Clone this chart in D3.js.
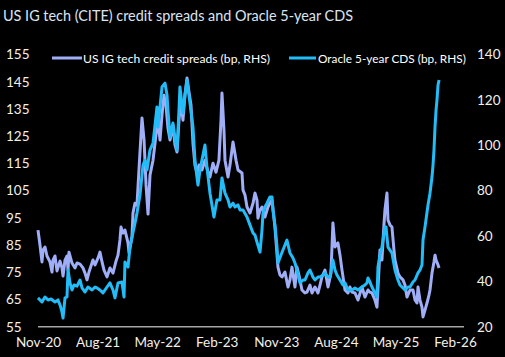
<!DOCTYPE html>
<html><head><meta charset="utf-8">
<script src="https://cdn.jsdelivr.net/npm/d3@7"></script>
<style>
html,body{margin:0;padding:0;background:#000;}
svg{display:block;}
text{font-family:Lato,"Liberation Sans",sans-serif;}
</style></head>
<body>
<script>
// ---- data ----
const titleText = "US IG tech (CITE) credit spreads and Oracle 5-year CDS";
const legendLabels = ["US IG tech credit spreads (bp, RHS)", "Oracle 5-year CDS (bp, RHS)"];
const xTickVals = [2020.833, 2021.583, 2022.333, 2023.083, 2023.833, 2024.583, 2025.333, 2026.083];
const xTickLabels = ["Nov-20","Aug-21","May-22","Feb-23","Nov-23","Aug-24","May-25","Feb-26"];
const leftTicks = [55,65,75,85,95,105,115,125,135,145,155];
const rightTicks = [20,40,60,80,100,120,140];

// US IG tech (CITE) spreads, bp (left scale); dates as decimal years
const citeDates = [2020.833,2020.858,2020.883,2020.896,2020.921,2020.946,2020.984,2021.009,2021.022,2021.047,2021.072,2021.110,2021.135,2021.148,2021.173,2021.198,2021.211,2021.223,2021.261,2021.299,2021.324,2021.362,2021.399,2021.425,2021.450,2021.475,2021.500,2021.525,2021.551,2021.588,2021.613,2021.639,2021.664,2021.702,2021.739,2021.777,2021.815,2021.840,2021.865,2021.878,2021.903,2021.928,2021.966,2021.979,2022.016,2022.029,2022.054,2022.079,2022.104,2022.142,2022.168,2022.193,2022.218,2022.243,2022.281,2022.318,2022.344,2022.369,2022.394,2022.419,2022.444,2022.469,2022.495,2022.532,2022.557,2022.583,2022.608,2022.633,2022.658,2022.683,2022.709,2022.734,2022.759,2022.784,2022.809,2022.834,2022.860,2022.897,2022.935,2022.973,2022.998,2023.036,2023.074,2023.111,2023.137,2023.149,2023.174,2023.187,2023.225,2023.250,2023.288,2023.326,2023.351,2023.401,2023.414,2023.439,2023.464,2023.502,2023.540,2023.565,2023.590,2023.602,2023.628,2023.653,2023.690,2023.728,2023.753,2023.779,2023.816,2023.854,2023.879,2023.905,2023.942,2023.980,2024.005,2024.030,2024.068,2024.093,2024.118,2024.156,2024.194,2024.219,2024.257,2024.282,2024.320,2024.358,2024.383,2024.408,2024.446,2024.484,2024.521,2024.546,2024.572,2024.609,2024.635,2024.660,2024.698,2024.735,2024.760,2024.786,2024.823,2024.861,2024.911,2024.949,2024.987,2025.012,2025.037,2025.075,2025.100,2025.125,2025.138,2025.163,2025.188,2025.201,2025.226,2025.239,2025.264,2025.289,2025.314,2025.327,2025.365,2025.390,2025.428,2025.453,2025.478,2025.516,2025.554,2025.579,2025.604,2025.617,2025.642,2025.667,2025.680,2025.705,2025.730,2025.755,2025.768,2025.793,2025.818,2025.831,2025.844,2025.869,2025.882];
const citeValues = [90.5,85.0,78.8,83.2,84.3,81.0,78.8,75.1,79.5,81.0,75.5,79.1,76.6,73.6,79.5,81.0,75.8,82.4,78.4,76.6,78.4,78.0,76.6,74.7,72.2,75.1,77.3,79.5,77.7,80.2,82.4,78.8,75.8,73.3,76.6,74.7,79.1,81.3,86.9,91.6,89.4,90.5,85.8,82.1,88.0,96.8,100.4,99.7,112.6,131.7,123.6,107.1,96.4,110.7,116.2,125.4,130.9,123.6,132.8,140.1,136.5,128.0,123.6,129.1,121.8,119.2,130.9,138.3,130.9,140.1,146.4,141.2,136.5,122.5,114.4,111.5,114.4,112.6,116.2,111.8,110.0,115.1,111.8,116.2,130.9,140.9,127.3,116.2,110.0,114.4,122.9,116.2,112.6,111.5,105.2,103.4,99.0,96.8,100.4,104.1,101.5,94.9,97.9,99.0,95.3,99.0,100.4,101.5,91.6,76.9,74.0,73.3,75.1,69.6,72.2,76.9,69.6,76.9,74.0,68.5,67.4,67.7,70.3,67.4,69.6,67.4,70.3,73.3,75.8,69.6,74.7,93.1,84.3,85.8,81.3,75.8,68.5,67.4,69.6,67.7,67.4,64.8,69.6,65.9,68.5,67.7,67.4,64.8,62.2,75.8,83.2,79.5,92.4,97.9,104.1,94.2,92.4,91.6,83.2,79.5,74.7,73.3,72.2,70.3,65.9,68.5,68.5,64.8,63.7,69.6,64.8,62.2,58.6,61.1,63.7,66.6,68.5,74.7,78.8,81.3,79.5,77.7,76.6];

// Oracle 5-year CDS, bp (right scale)
const oracleDates = [2020.833,2020.858,2020.883,2020.921,2020.959,2020.997,2021.047,2021.085,2021.110,2021.135,2021.148,2021.173,2021.198,2021.211,2021.236,2021.261,2021.286,2021.324,2021.362,2021.387,2021.425,2021.462,2021.513,2021.551,2021.576,2021.613,2021.651,2021.702,2021.739,2021.777,2021.802,2021.840,2021.890,2021.916,2021.928,2021.966,2021.991,2022.016,2022.054,2022.079,2022.117,2022.155,2022.180,2022.205,2022.243,2022.281,2022.306,2022.331,2022.344,2022.369,2022.394,2022.432,2022.457,2022.469,2022.495,2022.532,2022.557,2022.583,2022.608,2022.620,2022.658,2022.683,2022.709,2022.746,2022.784,2022.809,2022.834,2022.847,2022.872,2022.897,2022.935,2022.960,2022.998,2023.023,2023.048,2023.086,2023.124,2023.149,2023.187,2023.225,2023.250,2023.288,2023.313,2023.351,2023.376,2023.414,2023.464,2023.502,2023.540,2023.565,2023.590,2023.628,2023.653,2023.665,2023.690,2023.716,2023.753,2023.779,2023.791,2023.816,2023.842,2023.854,2023.892,2023.917,2023.942,2023.967,2024.005,2024.043,2024.068,2024.093,2024.131,2024.169,2024.194,2024.232,2024.257,2024.295,2024.320,2024.358,2024.383,2024.421,2024.446,2024.484,2024.509,2024.546,2024.572,2024.597,2024.635,2024.672,2024.698,2024.735,2024.786,2024.823,2024.861,2024.911,2024.949,2024.974,2024.987,2025.012,2025.037,2025.075,2025.100,2025.113,2025.138,2025.163,2025.201,2025.214,2025.239,2025.264,2025.289,2025.327,2025.365,2025.390,2025.428,2025.453,2025.491,2025.516,2025.554,2025.579,2025.617,2025.642,2025.667,2025.680,2025.705,2025.743,2025.768,2025.793,2025.806,2025.818,2025.831,2025.844,2025.856,2025.869,2025.882];
const oracleValues = [32.7,31.8,30.9,33.1,31.8,32.2,30.9,31.8,29.6,26.5,23.8,32.7,33.1,45.0,39.3,36.2,38.4,37.9,40.6,37.1,35.3,37.5,36.2,37.5,37.1,36.2,34.9,37.5,39.3,36.2,32.7,39.3,39.7,33.1,48.5,46.3,55.1,59.5,65.7,70.1,78.1,91.3,93.5,89.1,97.9,101.0,108.9,116.9,108.0,116.9,125.7,127.4,122.2,115.5,103.6,109.8,103.2,97.9,115.5,125.7,114.2,122.2,128.8,118.6,108.0,93.5,86.0,82.5,89.1,93.5,100.1,90.4,78.9,73.7,68.4,75.9,75.9,85.6,78.9,75.9,72.8,74.5,72.8,73.7,71.5,71.5,68.4,64.8,61.3,60.4,57.3,52.9,62.6,70.1,72.8,74.5,77.2,77.2,71.5,64.8,55.1,48.1,51.6,53.8,56.0,58.2,52.5,50.3,48.1,45.0,39.3,40.6,40.6,43.7,45.0,41.9,40.6,41.9,41.9,42.8,43.7,41.9,41.9,49.4,45.0,42.8,40.6,38.4,39.3,36.2,36.2,37.1,36.2,37.5,38.4,39.3,41.5,39.7,37.5,34.9,33.1,46.3,51.6,55.1,64.0,64.0,55.1,53.8,52.5,45.0,40.6,38.4,37.1,36.2,37.5,37.5,39.7,40.6,43.7,45.0,47.2,58.2,64.0,73.7,78.9,86.0,91.3,97.9,108.0,115.5,120.0,126.6,128.8];

// ---- chart ----
const W = 505, H = 357;
const svg = d3.select("body").append("svg").attr("width", W).attr("height", H)
  .style("background", "#000");

const x = d3.scaleLinear().domain([2020.833, 2026.196]).range([38, 464]);
const yL = d3.scaleLinear().domain([55, 155]).range([326.7, 54.6]);
const yR = d3.scaleLinear().domain([20, 140]).range([326.7, 54.6]);

const labelColor = "#f3f0e8";

// fit a text's font size so that its natural width equals a target width
function fitText(sel, baseSize, target) {
  sel.attr("font-size", baseSize);
  const w = sel.node().getComputedTextLength();
  if (w > 0) sel.attr("font-size", (baseSize * target / w).toFixed(2));
}

// title
const title = svg.append("text").attr("x", 3).attr("y", 21)
  .attr("fill", "#dce4f2")
  .text(titleText);
fitText(title, 16, 350);

// left axis
const gL = svg.append("g").attr("transform", "translate(6,0)")
  .call(d3.axisRight(yL).tickValues(leftTicks).tickSize(0).tickPadding(0));
gL.select(".domain").remove();
gL.selectAll("text").attr("fill", labelColor).attr("font-size", 13.5)
  .style("font-family", "Lato, sans-serif");

// right axis
const gR = svg.append("g").attr("transform", "translate(477,0)")
  .call(d3.axisRight(yR).tickValues(rightTicks).tickSize(0).tickPadding(0));
gR.select(".domain").remove();
gR.selectAll("text").attr("fill", labelColor).attr("font-size", 13.5)
  .style("font-family", "Lato, sans-serif");

// x axis
const gX = svg.append("g").attr("transform", "translate(0,326.7)")
  .call(d3.axisBottom(x).tickValues(xTickVals).tickFormat((d, i) => xTickLabels[i]).tickSize(0).tickPadding(11));
gX.select(".domain").remove();
gX.selectAll("text").attr("fill", labelColor).attr("font-size", 13.5)
  .style("font-family", "Lato, sans-serif");

// baseline
svg.append("line").attr("x1", x.range()[0]).attr("x2", x.range()[1])
  .attr("y1", yL(55)).attr("y2", yL(55))
  .attr("stroke", "#a6a6a6").attr("stroke-width", 1.6);

const citeColor = "#9faef7";
const oracleColor = "#22bdf8";

const citeData = citeDates.map((t, i) => ({t, v: citeValues[i]}));
const oracleData = oracleDates.map((t, i) => ({t, v: oracleValues[i]}));

svg.append("path").datum(citeData)
  .attr("fill", "none").attr("stroke", citeColor).attr("stroke-width", 3)
  .attr("stroke-linejoin", "round")
  .attr("d", d3.line().x(d => x(d.t)).y(d => yL(d.v)));

svg.append("path").datum(oracleData)
  .attr("fill", "none").attr("stroke", oracleColor).attr("stroke-width", 3)
  .attr("stroke-linejoin", "round")
  .attr("d", d3.line().x(d => x(d.t)).y(d => yR(d.v)));

// legend
const legendItems = [
  {label: legendLabels[0], color: citeColor, x1: 52, x2: 82, tx: 83, tw: 187},
  {label: legendLabels[1], color: oracleColor, x1: 289, x2: 316, tx: 318, tw: 148}
];
legendItems.forEach(it => {
  svg.append("line").attr("x1", it.x1).attr("x2", it.x2).attr("y1", 58).attr("y2", 58)
    .attr("stroke", it.color).attr("stroke-width", 3);
  const t = svg.append("text").attr("x", it.tx).attr("y", 62.5)
    .attr("fill", "#ffffff")
    .text(it.label);
  fitText(t, 13.5, it.tw);
});
</script>
</body></html>
